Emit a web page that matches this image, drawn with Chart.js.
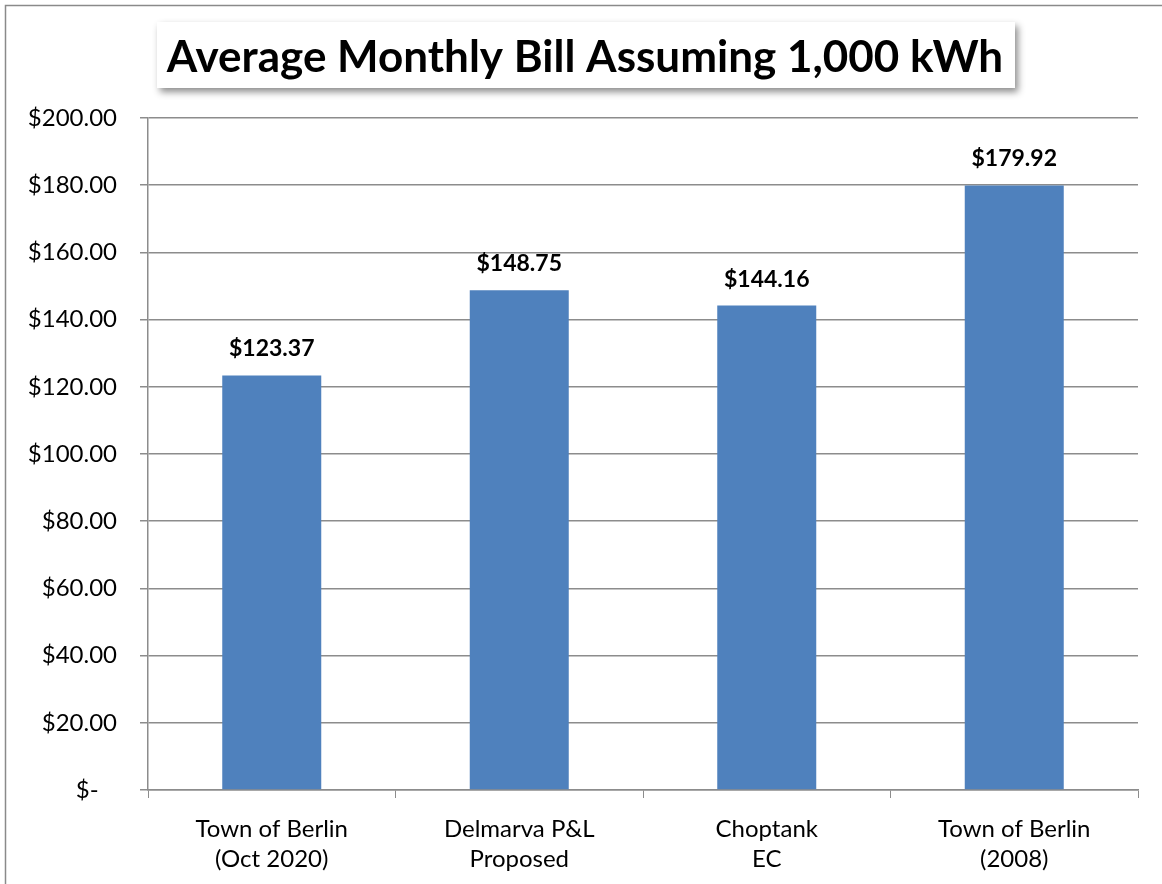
<!DOCTYPE html>
<html>
<head>
<meta charset="utf-8">
<script src="https://cdn.jsdelivr.net/npm/chart.js@4/dist/chart.umd.min.js"></script>
<style>
  body { margin: 0; background: #fff; }
  canvas { display: block; }
</style>
</head>
<body>
<canvas id="billChart" width="1162" height="884"></canvas>
<script>
const categories = [
  ["Town of Berlin", "(Oct 2020)"],
  ["Delmarva P&L", "Proposed"],
  ["Choptank", "EC"],
  ["Town of Berlin", "(2008)"]
];
const bills = [123.37, 148.75, 144.16, 179.92];
const chartTitle = "Average Monthly Bill Assuming 1,000 kWh";
const yMin = 0;
const yMax = 200;
const yStep = 20;

const gridGray = "#8c8c8c";
const fontFamily = "Lato, 'Open Sans', sans-serif";

// outer frame of the chart
const framePlugin = {
  id: "frame",
  beforeDraw(chart) {
    const c = chart.ctx;
    c.save();
    c.fillStyle = "#fff";
    c.fillRect(0, 0, chart.width, chart.height);
    c.strokeStyle = "#8a8a8a";
    c.lineWidth = 1.5;
    c.strokeRect(5.5, 5.5, chart.width + 50, chart.height + 50);
    c.restore();
  }
};

// "$123.37" labels above the bars
const valueLabels = {
  id: "valueLabels",
  afterDatasetsDraw(chart) {
    const c = chart.ctx;
    const meta = chart.getDatasetMeta(0);
    c.save();
    c.font = "bold 23px " + fontFamily;
    c.fillStyle = "#000";
    c.textAlign = "center";
    c.textBaseline = "alphabetic";
    meta.data.forEach((bar, i) => {
      c.fillText("$" + bills[i].toFixed(2), bar.x, bar.y - 19);
    });
    c.restore();
  }
};

// title in a white box with a drop shadow
const titleBox = {
  id: "titleBox",
  afterDraw(chart) {
    const c = chart.ctx;
    c.save();
    c.shadowColor = "rgba(0,0,0,0.45)";
    c.shadowBlur = 7;
    c.shadowOffsetX = 3;
    c.shadowOffsetY = 4;
    c.fillStyle = "#fff";
    c.fillRect(157, 22, 858, 66);
    c.restore();

    c.save();
    let size = 44;
    c.font = "bold " + size + "px " + fontFamily;
    while (c.measureText(chartTitle).width > 838 && size > 20) {
      size -= 0.5;
      c.font = "bold " + size + "px " + fontFamily;
    }
    c.fillStyle = "#000";
    c.textAlign = "center";
    c.textBaseline = "alphabetic";
    c.fillText(chartTitle, 585, 72);
    c.restore();
  }
};

const ctx = document.getElementById("billChart").getContext("2d");

new Chart(ctx, {
  type: "bar",
  data: {
    labels: categories,
    datasets: [
      {
        data: bills,
        backgroundColor: "#4f81bd",
        borderWidth: 0,
        barPercentage: 0.4,
        categoryPercentage: 1.0
      }
    ]
  },
  options: {
    responsive: false,
    animation: false,
    layout: {
      padding: { left: 0, top: 118, right: 24, bottom: 0 }
    },
    plugins: {
      legend: { display: false },
      title: { display: false },
      tooltip: { enabled: false }
    },
    scales: {
      x: {
        grid: {
          drawOnChartArea: false,
          drawTicks: true,
          tickLength: 8,
          color: gridGray
        },
        border: { color: gridGray, width: 1.5 },
        ticks: {
          color: "#000",
          padding: 17,
          font: { family: fontFamily, size: 24, lineHeight: 1.22 }
        },
        afterFit(scale) {
          scale.height = 94;
        }
      },
      y: {
        min: yMin,
        max: yMax,
        grid: {
          color: gridGray,
          lineWidth: 1.5,
          tickLength: 8
        },
        border: { color: gridGray, width: 1.5 },
        ticks: {
          stepSize: yStep,
          color: "#000",
          padding: 23,
          font: { family: fontFamily, size: 24 },
          callback: (v) => (v === 0 ? "$-   " : "$" + v.toFixed(2))
        },
        afterFit(scale) {
          scale.width = 148;
        }
      }
    }
  },
  plugins: [framePlugin, valueLabels, titleBox]
});
</script>
</body>
</html>
